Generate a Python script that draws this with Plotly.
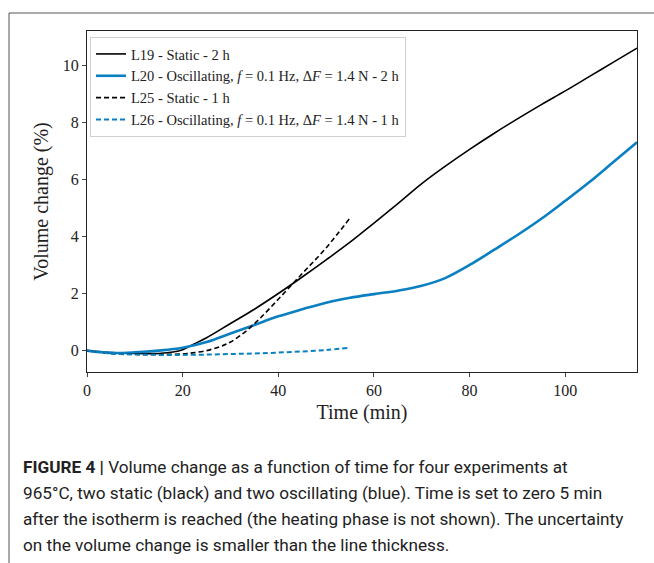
import plotly.graph_objects as go

# ---- data ----
t_L19 = [0, 5, 10, 15, 18, 20, 22, 25, 30, 35, 40, 45, 50, 55, 60, 65, 70, 75, 80, 85, 90, 95, 100, 105, 110, 115]
v_L19 = [0, -0.07, -0.1, -0.1, -0.05, 0.03, 0.2, 0.45, 0.95, 1.45, 2.0, 2.58, 3.18, 3.8, 4.47, 5.15, 5.85, 6.47, 7.05, 7.6, 8.12, 8.62, 9.1, 9.6, 10.1, 10.6]

t_L20 = [0, 5, 10, 15, 20, 25, 30, 35, 40, 45, 50, 55, 60, 65, 70, 75, 80, 85, 90, 95, 100, 105, 110, 115]
v_L20 = [0, -0.08, -0.06, 0.0, 0.1, 0.3, 0.6, 0.9, 1.2, 1.45, 1.68, 1.85, 1.98, 2.1, 2.27, 2.55, 3.0, 3.52, 4.05, 4.62, 5.25, 5.9, 6.6, 7.3]

t_L25 = [0, 5, 10, 15, 20, 22, 25, 28, 30, 33, 36, 40, 45, 50, 55]
v_L25 = [0, -0.1, -0.13, -0.13, -0.12, -0.08, 0.0, 0.15, 0.3, 0.65, 1.1, 1.8, 2.7, 3.6, 4.65]

t_L26 = [0, 5, 10, 15, 20, 25, 30, 35, 40, 45, 50, 55]
v_L26 = [0, -0.1, -0.14, -0.15, -0.15, -0.14, -0.12, -0.1, -0.07, -0.03, 0.02, 0.1]

names = [
    "L19 - Static - 2 h",
    "L20 - Oscillating, <i>f</i> = 0.1 Hz, Δ<i>F</i> = 1.4 N - 2 h",
    "L25 - Static - 1 h",
    "L26 - Oscillating, <i>f</i> = 0.1 Hz, Δ<i>F</i> = 1.4 N - 1 h",
]

x_ticks = [0, 20, 40, 60, 80, 100]
y_ticks = [0, 2, 4, 6, 8, 10]

caption_lines = [
    "<b>FIGURE 4 |</b> Volume change as a function of time for four experiments at",
    "965°C, two static (black) and two oscillating (blue). Time is set to zero 5 min",
    "after the isotherm is reached (the heating phase is not shown). The uncertainty",
    "on the volume change is smaller than the line thickness.",
]

BLUE = "#0a7fc2"
SERIF = "Liberation Serif, DejaVu Serif, serif"

fig = go.Figure()
fig.add_trace(go.Scatter(x=t_L19, y=v_L19, mode="lines", name=names[0],
                         line=dict(color="black", width=1.6, shape="spline")))
fig.add_trace(go.Scatter(x=t_L20, y=v_L20, mode="lines", name=names[1],
                         line=dict(color=BLUE, width=2.6, shape="spline")))
fig.add_trace(go.Scatter(x=t_L25, y=v_L25, mode="lines", name=names[2],
                         line=dict(color="black", width=1.6, dash="5px,3px", shape="spline")))
fig.add_trace(go.Scatter(x=t_L26, y=v_L26, mode="lines", name=names[3],
                         line=dict(color=BLUE, width=2.0, dash="5px,3px", shape="spline")))

L, R, T, B = 87, 17, 31, 191
W, H = 654, 563
pw, ph = W - L - R, H - T - B

def px_to_paper_x(px):
    return (px - L) / pw

def px_to_paper_y(py):
    return (H - B - py) / ph

fig.update_layout(
    width=W, height=H,
    margin=dict(l=L, r=R, t=T, b=B, autoexpand=False),
    paper_bgcolor="white", plot_bgcolor="white",
    font=dict(family=SERIF, color="#222", size=15),
    showlegend=True,
    legend=dict(x=px_to_paper_x(90), y=px_to_paper_y(37), xanchor="left", yanchor="top",
                bgcolor="rgba(255,255,255,0.9)", bordercolor="#d0d0d0", borderwidth=1,
                font=dict(family=SERIF, size=14.5, color="#222"),
                tracegroupgap=0, itemwidth=30),
    xaxis=dict(range=[0, 115], tickvals=x_ticks, ticks="outside", ticklen=4,
               showline=True, mirror=True, linecolor="#222", linewidth=1,
               showgrid=False, zeroline=False, automargin=False,
               title=dict(text="Time (min)", font=dict(size=20, family=SERIF), standoff=6),
               tickfont=dict(size=16)),
    yaxis=dict(range=[-0.75, 11.2], tickvals=y_ticks, ticks="outside", ticklen=4,
               showline=True, mirror=True, linecolor="#222", linewidth=1,
               showgrid=False, zeroline=False, automargin=False,
               title=dict(text="Volume change (%)", font=dict(size=20, family=SERIF), standoff=8),
               tickfont=dict(size=16)),
)

# frame lines of the figure panel
fig.add_shape(type="line", xref="paper", yref="paper",
              x0=px_to_paper_x(9), x1=px_to_paper_x(654), y0=px_to_paper_y(13), y1=px_to_paper_y(13),
              line=dict(color="#555", width=1))
fig.add_shape(type="line", xref="paper", yref="paper",
              x0=px_to_paper_x(9), x1=px_to_paper_x(9), y0=px_to_paper_y(13), y1=px_to_paper_y(563),
              line=dict(color="#555", width=1))

# caption
for i, line in enumerate(caption_lines):
    fig.add_annotation(text=line, xref="paper", yref="paper",
                       x=px_to_paper_x(21), y=px_to_paper_y(467 + 26 * i),
                       xanchor="left", yanchor="middle", showarrow=False, align="left",
                       font=dict(family="Roboto, Liberation Sans, sans-serif", size=17.2, color="#222"))

fig.write_html("out.html", config={"displayModeBar": False},
               post_script="document.body.style.margin='0';document.body.style.overflow='hidden';")
